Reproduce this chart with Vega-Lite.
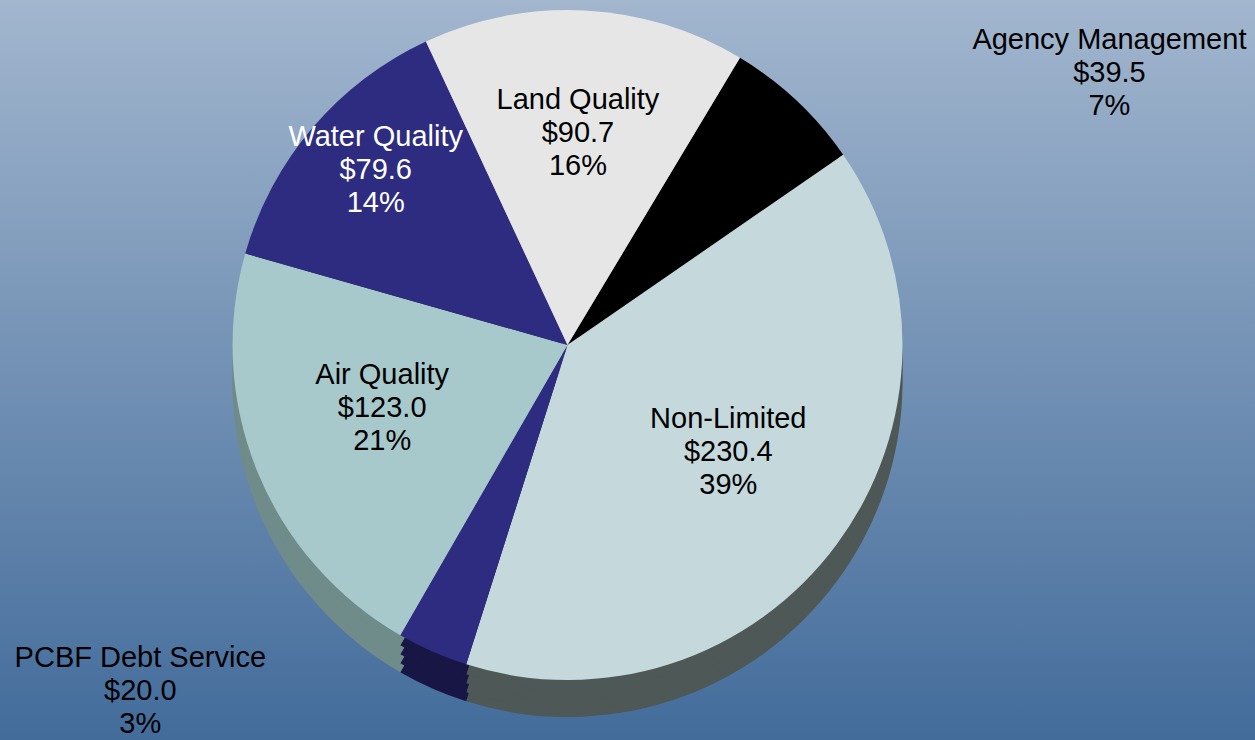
{
  "$schema": "https://vega.github.io/schema/vega-lite/v6.json",
  "autosize": "none",
  "width": 1255,
  "height": 740,
  "padding": 0,
  "config": {"view": {"stroke": null}, "font": "Liberation Sans"},
  "data": {"values": [
    {"ord": 1, "category": "Agency Management", "value": 39.5, "label": "Agency Management\n$39.5\n7%"},
    {"ord": 2, "category": "Non-Limited", "value": 230.4, "label": "Non-Limited\n$230.4\n39%"},
    {"ord": 3, "category": "PCBF Debt Service", "value": 20.0, "label": "PCBF Debt Service\n$20.0\n3%"},
    {"ord": 4, "category": "Air Quality", "value": 123.0, "label": "Air Quality\n$123.0\n21%"},
    {"ord": 5, "category": "Water Quality", "value": 79.6, "label": "Water Quality\n$79.6\n14%"},
    {"ord": 6, "category": "Land Quality", "value": 90.7, "label": "Land Quality\n$90.7\n16%"}
  ]},
  "layer": [
    {
      "data": {"values": [{"bg": 1}]},
      "mark": {"type": "rect", "fill": {"gradient": "linear", "x1": 0, "y1": 0, "x2": 0, "y2": 1, "stops": [{"offset": 0, "color": "#a2b6ce"}, {"offset": 1, "color": "#436c9b"}]}},
      "encoding": {}
    },
    {
      "mark": {"type": "arc", "radius": 335, "xOffset": -60, "yOffset": 12},
      "encoding": {
        "theta": {"field": "value", "type": "quantitative", "stack": true, "scale": {"range": [0.541, 6.824]}},
        "order": {"field": "ord", "type": "quantitative"},
        "color": {"field": "category", "type": "nominal", "legend": null, "scale": {"domain": ["Agency Management", "Non-Limited", "PCBF Debt Service", "Air Quality", "Water Quality", "Land Quality"], "range": ["#000000", "#4e5856", "#181644", "#6f8b8a", "#181644", "#8a8a8a"]}}
      }
    },
    {
      "mark": {"type": "arc", "radius": 335, "xOffset": -60, "yOffset": 3},
      "encoding": {
        "theta": {"field": "value", "type": "quantitative", "stack": true, "scale": {"range": [0.541, 6.824]}},
        "order": {"field": "ord", "type": "quantitative"},
        "color": {"field": "category", "type": "nominal", "legend": null, "scale": {"domain": ["Agency Management", "Non-Limited", "PCBF Debt Service", "Air Quality", "Water Quality", "Land Quality"], "range": ["#000000", "#4e5856", "#181644", "#6f8b8a", "#181644", "#8a8a8a"]}}
      }
    },
    {
      "mark": {"type": "arc", "radius": 335, "xOffset": -60, "yOffset": -6},
      "encoding": {
        "theta": {"field": "value", "type": "quantitative", "stack": true, "scale": {"range": [0.541, 6.824]}},
        "order": {"field": "ord", "type": "quantitative"},
        "color": {"field": "category", "type": "nominal", "legend": null, "scale": {"domain": ["Agency Management", "Non-Limited", "PCBF Debt Service", "Air Quality", "Water Quality", "Land Quality"], "range": ["#000000", "#4e5856", "#181644", "#6f8b8a", "#181644", "#8a8a8a"]}}
      }
    },
    {
      "mark": {"type": "arc", "radius": 335, "xOffset": -60, "yOffset": -15},
      "encoding": {
        "theta": {"field": "value", "type": "quantitative", "stack": true, "scale": {"range": [0.541, 6.824]}},
        "order": {"field": "ord", "type": "quantitative"},
        "color": {"field": "category", "type": "nominal", "legend": null, "scale": {"domain": ["Agency Management", "Non-Limited", "PCBF Debt Service", "Air Quality", "Water Quality", "Land Quality"], "range": ["#000000", "#4e5856", "#181644", "#6f8b8a", "#181644", "#8a8a8a"]}}
      }
    },
    {
      "mark": {"type": "arc", "radius": 335, "xOffset": -60, "yOffset": -25},
      "encoding": {
        "theta": {"field": "value", "type": "quantitative", "stack": true, "scale": {"range": [0.541, 6.824]}},
        "order": {"field": "ord", "type": "quantitative"},
        "color": {"field": "category", "type": "nominal", "legend": null, "scale": {"domain": ["Agency Management", "Non-Limited", "PCBF Debt Service", "Air Quality", "Water Quality", "Land Quality"], "range": ["#000000", "#c5d8dc", "#2e2c80", "#a7c9cc", "#2e2c80", "#e6e6e6"]}}
      }
    },
    {
      "mark": {"type": "text", "radius": 200, "xOffset": -60, "yOffset": -25, "dy": -45, "fontSize": 29, "lineHeight": 33, "lineBreak": "\n", "align": "center", "baseline": "middle", "color": "#000000"},
      "encoding": {
        "theta": {"field": "value", "type": "quantitative", "stack": true, "scale": {"range": [0.541, 6.824]}},
        "order": {"field": "ord", "type": "quantitative"},
        "text": {"condition": {"test": "datum.ord == 1 || datum.ord == 3 || datum.ord == 5", "value": ""}, "field": "label", "type": "nominal"}
      }
    },
    {
      "mark": {"type": "text", "radius": 252, "xOffset": -60, "yOffset": -25, "dy": -45, "fontSize": 29, "lineHeight": 33, "lineBreak": "\n", "align": "center", "baseline": "middle", "color": "#ffffff"},
      "encoding": {
        "theta": {"field": "value", "type": "quantitative", "stack": true, "scale": {"range": [0.541, 6.824]}},
        "order": {"field": "ord", "type": "quantitative"},
        "text": {"condition": {"test": "datum.ord != 5", "value": ""}, "field": "label", "type": "nominal"}
      }
    },
    {
      "mark": {"type": "text", "radius": 390, "xOffset": -60, "yOffset": -25, "dx": 275, "dy": -21, "fontSize": 29, "lineHeight": 33, "lineBreak": "\n", "align": "center", "baseline": "middle", "color": "#000000"},
      "encoding": {
        "theta": {"field": "value", "type": "quantitative", "stack": true, "scale": {"range": [0.541, 6.824]}},
        "order": {"field": "ord", "type": "quantitative"},
        "text": {"condition": {"test": "datum.ord != 1", "value": ""}, "field": "label", "type": "nominal"}
      }
    },
    {
      "mark": {"type": "text", "radius": 390, "xOffset": -60, "yOffset": -25, "dx": -270, "dy": -44, "fontSize": 29, "lineHeight": 33, "lineBreak": "\n", "align": "center", "baseline": "middle", "color": "#000000"},
      "encoding": {
        "theta": {"field": "value", "type": "quantitative", "stack": true, "scale": {"range": [0.541, 6.824]}},
        "order": {"field": "ord", "type": "quantitative"},
        "text": {"condition": {"test": "datum.ord != 3", "value": ""}, "field": "label", "type": "nominal"}
      }
    }
  ],
  "resolve": {"scale": {"color": "independent"}}
}
